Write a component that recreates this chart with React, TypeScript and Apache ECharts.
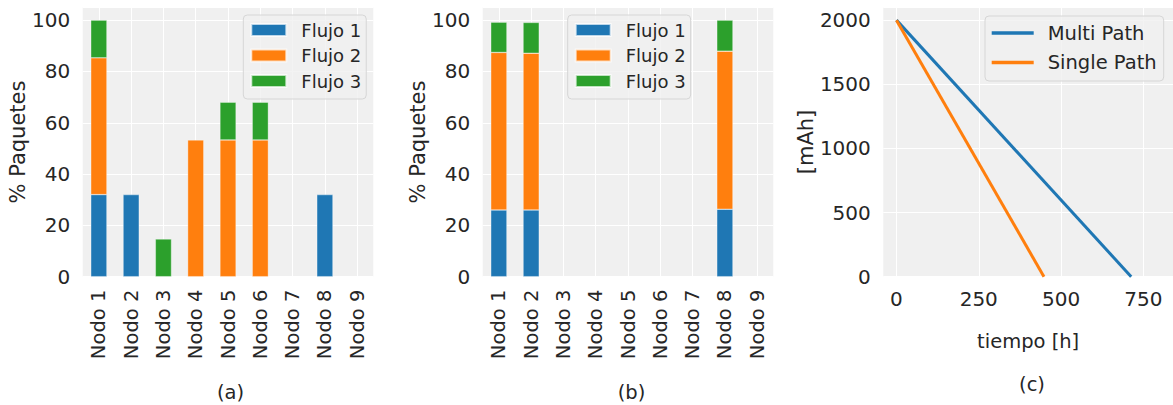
import React, { useEffect, useRef } from 'react';
import * as echarts from 'echarts';

// ---------- data ----------
const nodes = ['Nodo 1', 'Nodo 2', 'Nodo 3', 'Nodo 4', 'Nodo 5', 'Nodo 6', 'Nodo 7', 'Nodo 8', 'Nodo 9'];
const flowNames = ['Flujo 1', 'Flujo 2', 'Flujo 3'];

// panel (a)
const aFlujo1 = [32, 32, 0, 0, 0, 0, 0, 32, 0];
const aFlujo2 = [53.3, 0, 0, 53.3, 53.3, 53.3, 0, 0, 0];
const aFlujo3 = [14.7, 0, 14.7, 0, 14.7, 14.7, 0, 0, 0];

// panel (b)
const bFlujo1 = [26, 26, 0, 0, 0, 0, 0, 26.3, 0];
const bFlujo2 = [61.4, 61.1, 0, 0, 0, 0, 0, 61.6, 0];
const bFlujo3 = [11.8, 12, 0, 0, 0, 0, 0, 12.1, 0];

// panel (c)
const lineNames = ['Multi Path', 'Single Path'];
const multiPath = [[0, 2000], [713, 0]];
const singlePath = [[0, 2000], [448, 0]];
const timeTicks = [0, 250, 500, 750];

const panelLabels = ['(a)', '(b)', '(c)'];

// ---------- style ----------
const FONT = 'DejaVu Sans';
const TXT = '#262626';
const BG = '#f0f0f0';
const COLORS = ['#1f77b4', '#ff7f0e', '#2ca02c'];

const nz = (arr: number[]) => arr.map((v) => (v === 0 ? null : v));

export default function App() {
  const ref = useRef<HTMLDivElement>(null);

  useEffect(() => {
    if (!ref.current) return;
    const chart = echarts.init(ref.current, null, { renderer: 'svg' });

    const plotTop = 7.3;
    const plotH = 269.4;
    const grids = [
      { left: 82.7, top: plotTop, width: 290.6, height: plotH },
      { left: 482.7, top: plotTop, width: 290.6, height: plotH },
      { left: 883.3, top: plotTop, width: 290, height: plotH },
    ].map((g) => ({ ...g, show: true, backgroundColor: BG, borderWidth: 0 }));

    const tickLabel = { color: TXT, fontFamily: FONT, fontSize: 19.5 };

    const catAxis = (gi: number) => ({
      type: 'category',
      gridIndex: gi,
      data: nodes,
      boundaryGap: true,
      axisLine: { show: false },
      axisTick: { show: false, alignWithLabel: true },
      splitLine: { show: true, alignWithLabel: true, lineStyle: { color: '#ffffff', width: 1 } },
      axisLabel: { ...tickLabel, rotate: 90, margin: 13, interval: 0 },
    });

    const pctAxis = (gi: number) => ({
      type: 'value',
      gridIndex: gi,
      min: 0,
      max: 105,
      interval: 20,
      name: '% Paquetes',
      nameLocation: 'middle',
      nameRotate: 90,
      nameGap: 52,
      nameTextStyle: { color: TXT, fontFamily: FONT, fontSize: 21 },
      axisLine: { show: false },
      axisTick: { show: false },
      splitLine: { show: true, lineStyle: { color: '#ffffff', width: 1 } },
      axisLabel: { ...tickLabel, fontSize: 20, margin: 12.5, showMaxLabel: false },
    });

    const barSeries = (gi: number, stack: string, vals: number[][]) =>
      vals.map((v, i) => ({
        type: 'bar',
        name: flowNames[i],
        xAxisIndex: gi,
        yAxisIndex: gi,
        stack,
        barWidth: '50%',
        data: nz(v),
        itemStyle: { color: COLORS[i], borderColor: 'rgba(255,255,255,0.7)', borderWidth: 0.5 },
      }));

    const legendBox = {
      orient: 'vertical',
      backgroundColor: 'rgba(240,240,240,0.8)',
      borderColor: '#d6d6d6',
      borderWidth: 1,
      borderRadius: 4,
    };

    const option: any = {
      animation: false,
      grid: grids,
      xAxis: [
        catAxis(0),
        catAxis(1),
        {
          type: 'value',
          gridIndex: 2,
          min: -40,
          max: 840,
          name: 'tiempo [h]',
          nameLocation: 'middle',
          nameGap: 55,
          nameTextStyle: { color: TXT, fontFamily: FONT, fontSize: 19.5 },
          axisLine: { show: false },
          axisTick: { show: false, customValues: timeTicks },
          splitLine: { show: true, lineStyle: { color: '#ffffff', width: 1 } },
          axisLabel: { ...tickLabel, fontSize: 20, margin: 12, customValues: timeTicks, formatter: (v: number) => String(v) },
        },
      ],
      yAxis: [
        pctAxis(0),
        pctAxis(1),
        {
          type: 'value',
          gridIndex: 2,
          min: 0,
          max: 2100,
          interval: 500,
          name: '[mAh]',
          nameLocation: 'middle',
          nameRotate: 90,
          nameGap: 65,
          nameTextStyle: { color: TXT, fontFamily: FONT, fontSize: 21 },
          axisLine: { show: false },
          axisTick: { show: false },
          splitLine: { show: true, lineStyle: { color: '#ffffff', width: 1 } },
          axisLabel: { ...tickLabel, fontSize: 20, margin: 12.5, showMaxLabel: false, formatter: (v: number) => String(v) },
        },
      ],
      legend: [
        {
          ...legendBox,
          left: 243.3,
          top: 15,
          padding: [6, 5, 9, 7],
          itemGap: 7.5,
          itemWidth: 35,
          itemHeight: 12,
          icon: 'rect',
          data: flowNames,
          textStyle: { color: TXT, fontFamily: FONT, fontSize: 18, lineHeight: 18, padding: [0, 0, 0, 10] },
        },
        {
          ...legendBox,
          left: 567.7,
          top: 15,
          padding: [6, 5, 9, 7],
          itemGap: 7.5,
          itemWidth: 35,
          itemHeight: 12,
          icon: 'rect',
          data: flowNames,
          textStyle: { color: TXT, fontFamily: FONT, fontSize: 18, lineHeight: 18, padding: [0, 0, 0, 10] },
        },
        {
          ...legendBox,
          left: 985,
          top: 16,
          padding: [7, 7, 8.5, 6.7],
          itemGap: 9.5,
          itemWidth: 42,
          itemHeight: 3.5,
          icon: 'rect',
          data: lineNames,
          textStyle: { color: TXT, fontFamily: FONT, fontSize: 19.5, lineHeight: 19.5, padding: [0, 0, 0, 9] },
        },
      ],
      graphic: panelLabels.map((t, i) => ({
        type: 'text',
        x: [230.5, 631.5, 1032][i],
        y: [392, 392, 384][i],
        style: {
          text: t,
          align: 'center',
          verticalAlign: 'middle',
          fill: TXT,
          fontFamily: FONT,
          fontSize: 19.5,
        },
      })),
      series: [
        ...barSeries(0, 'a', [aFlujo1, aFlujo2, aFlujo3]),
        ...barSeries(1, 'b', [bFlujo1, bFlujo2, bFlujo3]),
        {
          type: 'line',
          name: lineNames[0],
          xAxisIndex: 2,
          yAxisIndex: 2,
          data: multiPath,
          symbol: 'none',
          lineStyle: { color: COLORS[0], width: 3 },
          itemStyle: { color: COLORS[0] },
        },
        {
          type: 'line',
          name: lineNames[1],
          xAxisIndex: 2,
          yAxisIndex: 2,
          data: singlePath,
          symbol: 'none',
          lineStyle: { color: COLORS[1], width: 3 },
          itemStyle: { color: COLORS[1] },
        },
      ],
    };

    chart.setOption(option);
    return () => chart.dispose();
  }, []);

  return (
    <div
      ref={ref}
      style={{ position: 'absolute', left: 0, top: 0, width: 1173, height: 405, background: '#ffffff' }}
    />
  );
}
